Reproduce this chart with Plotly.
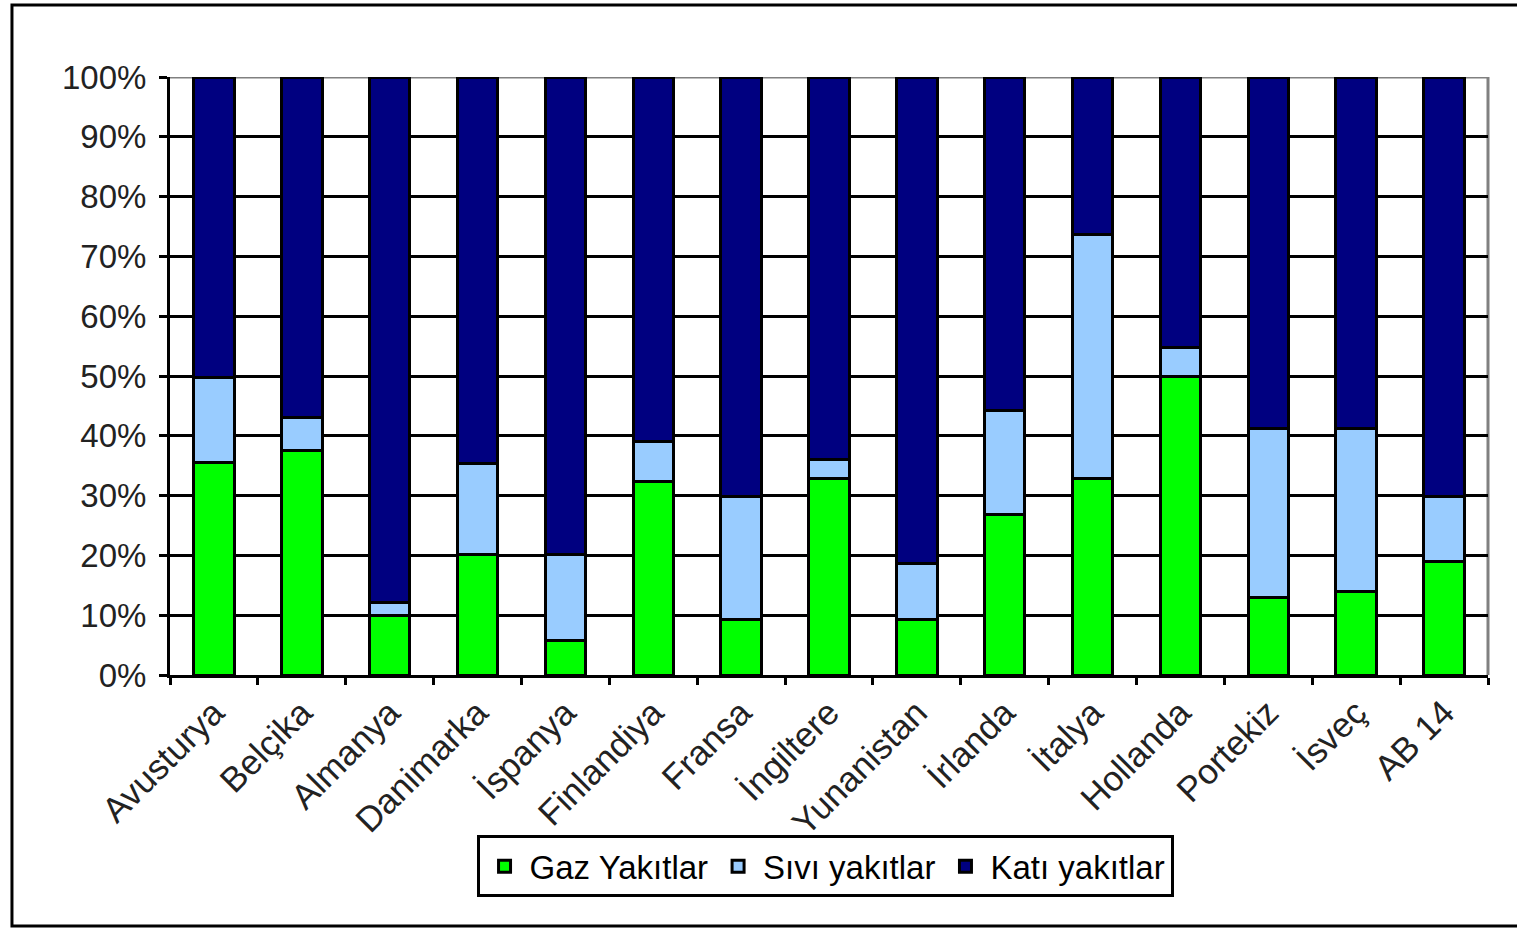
import plotly.graph_objects as go

countries = ["Avusturya", "Belçika", "Almanya", "Danimarka", "İspanya", "Finlandiya",
             "Fransa", "İngiltere", "Yunanistan", "İrlanda", "İtalya", "Hollanda",
             "Portekiz", "İsveç", "AB 14"]
gaz = [35.5, 37.6, 9.9, 20.2, 5.7, 32.3, 9.2, 32.9, 9.2, 26.9, 32.9, 50.0, 12.9, 14.0, 18.9]
sivi = [14.3, 5.5, 2.3, 15.1, 14.4, 6.7, 20.6, 3.1, 9.5, 17.4, 40.7, 4.7, 28.4, 27.3, 10.9]
kati = [round(100 - g - s, 1) for g, s in zip(gaz, sivi)]

series_names = ["Gaz Yakıtlar", "Sıvı yakıtlar", "Katı yakıtlar"]
series_colors = ["#00FF00", "#99CCFF", "#000080"]
y_ticks = list(range(0, 101, 10))
y_ticktext = [f"{v}%" for v in y_ticks]

FONT = "Liberation Sans, Arial, sans-serif"

fig = go.Figure()
for name, vals, col in zip(series_names, [gaz, sivi, kati], series_colors):
    fig.add_trace(go.Bar(
        x=countries, y=vals, name=name,
        marker=dict(color=col, line=dict(color="black", width=3)),
    ))

fig.update_layout(
    width=1517, height=929,
    barmode="stack",
    bargap=0.54,
    paper_bgcolor="white", plot_bgcolor="white",
    margin=dict(l=170, r=29, t=77, b=254, autoexpand=False),
    font=dict(family=FONT, size=32, color="black"),
    showlegend=True,
    legend=dict(
        orientation="h", x=0.497, xanchor="center", y=-0.268, yanchor="top",
        bordercolor="black", borderwidth=3, bgcolor="white",
        font=dict(family=FONT, size=33, color="black"),
        traceorder="normal", itemwidth=40,
    ),
    xaxis=dict(
        type="category", tickson="boundaries", ticks="outside", ticklen=7,
        tickwidth=3, tickcolor="black", tickangle=-45,
        showline=True, linecolor="black", linewidth=3,
        showgrid=False, tickfont=dict(size=35, color="#222"),
        automargin=False,
    ),
    yaxis=dict(
        range=[0, 100], tickvals=y_ticks, ticktext=y_ticktext,
        ticks="outside", ticklen=8, tickwidth=3, tickcolor="black",
        showline=True, linecolor="black", linewidth=3,
        showgrid=True, gridcolor="black", gridwidth=3,
        zeroline=False, tickfont=dict(size=33, color="#222"),
        ticklabelstandoff=6,
        automargin=False,
    ),
    shapes=[
        dict(type="line", xref="paper", yref="y", x0=0, x1=1, y0=100, y1=100,
             line=dict(color="#808080", width=3), layer="between"),
        dict(type="line", xref="paper", yref="paper", x0=1, x1=1, y0=0, y1=1,
             line=dict(color="#808080", width=3), layer="between"),
        dict(type="rect", xref="paper", yref="paper",
             x0=-0.1199, x1=1.03, y0=-0.4197, y1=1.1204,
             line=dict(color="black", width=3), fillcolor="rgba(0,0,0,0)",
             layer="below"),
    ],
)

fig.write_html(
    "out.html",
    config={"displayModeBar": False},
    post_script="document.body.style.margin='0';document.body.style.overflow='hidden';",
)
